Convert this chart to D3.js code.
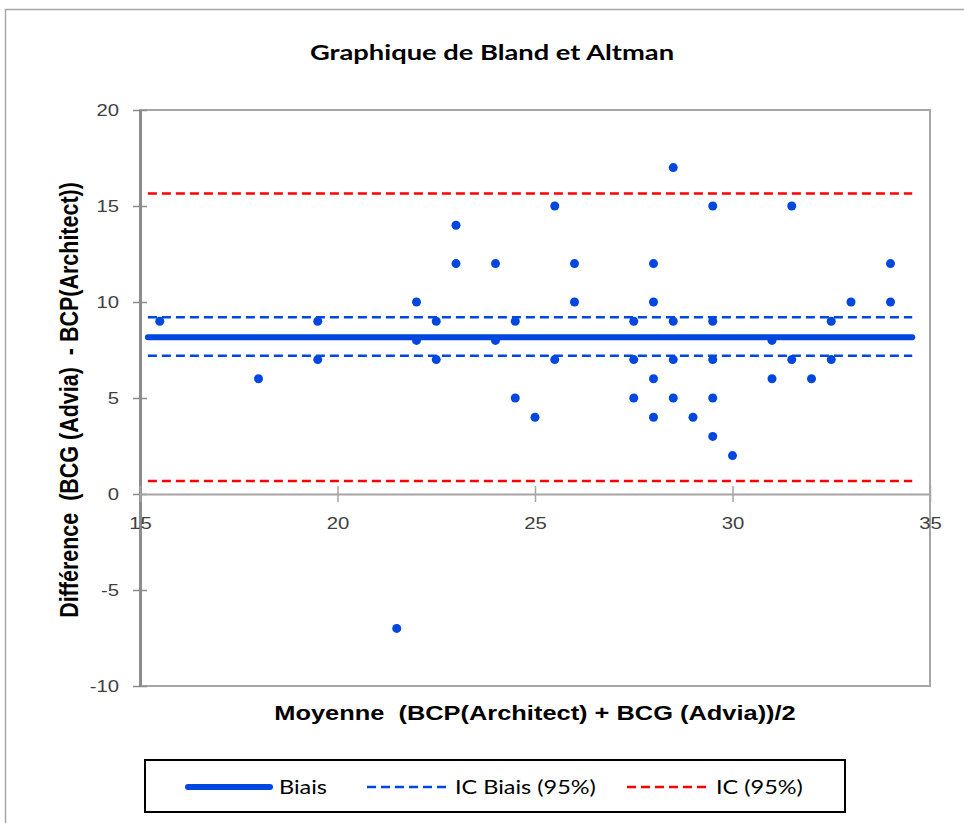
<!DOCTYPE html>
<html>
<head>
<meta charset="utf-8">
<script src="https://cdn.jsdelivr.net/npm/d3@7"></script>
<style>
  html, body { margin: 0; padding: 0; background: #fff; }
  svg { display: block; }
  text { white-space: pre; }
</style>
</head>
<body>
<svg id="chart" width="964" height="823"></svg>
<script>
// ---- Data ----
const meanValues = [15.5, 18, 19.5, 19.5, 21.5, 22, 22, 22.5, 22.5, 23, 23, 24, 24, 24.5, 24.5, 25,
  25.5, 25.5, 26, 26, 27.5, 27.5, 27.5, 28, 28, 28, 28, 28.5, 28.5, 28.5, 28.5, 29,
  29.5, 29.5, 29.5, 29.5, 29.5, 30, 31, 31, 31.5, 31.5, 32, 32.5, 32.5, 33, 34, 34];
const diffValues = [9, 6, 9, 7, -7, 10, 8, 9, 7, 14, 12, 12, 8, 9, 5, 4,
  15, 7, 12, 10, 9, 7, 5, 12, 10, 6, 4, 17, 9, 7, 5, 4,
  15, 9, 7, 5, 3, 2, 8, 6, 15, 7, 6, 9, 7, 10, 12, 10];
const lineXRange = [15.2, 34.55];
const biasValue = 8.17;
const icBiaisValues = [9.2, 7.2];
const icValues = [15.65, 0.68];
const xTicks = [15, 20, 25, 30, 35];
const yTicks = [-10, -5, 0, 5, 10, 15, 20];
const legendLabels = ["Biais", "IC Biais (95%)", "IC (95%)"];
const titleText = "Graphique de Bland et Altman";
const xLabel = "Moyenne  (BCP(Architect) + BCG (Advia))/2";
const yLabel = "Différence  (BCG (Advia)  - BCP(Architect))";

const blue = "#0047e0";
const red = "#ff0000";
const SX = 1.27; // horizontal stretch of the original picture

const svg = d3.select("#chart");

// outer chart border
svg.append("rect").attr("x", 5.5).attr("y", 9.5).attr("width", 1000).attr("height", 1000)
  .attr("fill", "none").attr("stroke", "#a6a6a6").attr("stroke-width", 1.5);

const plot = { left: 140, right: 930, top: 110, bottom: 686 };
const x = d3.scaleLinear().domain([15, 35]).range([plot.left, plot.right]);
const y = d3.scaleLinear().domain([-10, 20]).range([plot.bottom, plot.top]);

// plot area border
svg.append("rect").attr("x", plot.left).attr("y", plot.top)
  .attr("width", plot.right - plot.left).attr("height", plot.bottom - plot.top)
  .attr("fill", "none").attr("stroke", "#a6a6a6").attr("stroke-width", 2);

const fmt = d => String(d);

// y axis
const yAxis = d3.axisLeft(y).tickValues(yTicks).tickFormat(fmt).tickSizeInner(7).tickSizeOuter(0);
const yG = svg.append("g").attr("transform", `translate(${plot.left},0)`).call(yAxis);
yG.select(".domain").attr("stroke", "#8c8c8c").attr("stroke-width", 3);
yG.selectAll(".tick line").attr("stroke", "#8c8c8c").attr("stroke-width", 1.5).attr("x2", 7).attr("x1", -7);
yG.selectAll(".tick text").attr("font-family", "Liberation Sans, Arial, sans-serif")
  .attr("font-size", 16).attr("fill", "#404040")
  .attr("x", -21 / SX).attr("transform", `scale(${SX},1)`);

// x axis at y=0
const xAxis = d3.axisBottom(x).tickValues(xTicks).tickFormat(fmt).tickSizeInner(8).tickSizeOuter(0).tickPadding(16);
const xG = svg.append("g").attr("transform", `translate(0,${y(0)})`).call(xAxis);
xG.select(".domain").attr("stroke", "#a6a6a6").attr("stroke-width", 2);
xG.selectAll(".tick line").attr("stroke", "#a6a6a6").attr("stroke-width", 1.5).attr("y1", -8).attr("y2", 8);
xG.selectAll(".tick text").attr("font-family", "Liberation Sans, Arial, sans-serif")
  .attr("font-size", 16).attr("fill", "#404040").attr("transform", `scale(${SX},1)`);

// reference lines
function hline(val, color, width, dash, cap) {
  svg.append("line")
    .attr("x1", x(lineXRange[0])).attr("x2", x(lineXRange[1]))
    .attr("y1", y(val)).attr("y2", y(val))
    .attr("stroke", color).attr("stroke-width", width)
    .attr("stroke-dasharray", dash).attr("stroke-linecap", cap);
}
icValues.forEach(v => hline(v, red, 2.5, "9,5", "butt"));
icBiaisValues.forEach(v => hline(v, blue, 2.5, "9,5", "butt"));
hline(biasValue, blue, 6, null, "round");

// points
const pts = meanValues.map((m, i) => ({ m, d: diffValues[i] }));
svg.append("g").selectAll("circle").data(pts).join("circle")
  .attr("cx", p => x(p.m)).attr("cy", p => y(p.d)).attr("r", 4.5).attr("fill", blue);

// title
svg.append("text").attr("transform", `translate(492,60) scale(${SX},1)`).attr("text-anchor", "middle")
  .attr("font-family", "Lato, sans-serif").attr("font-weight", "bold").attr("font-size", 21.5)
  .attr("fill", "#000").text(titleText);

// axis labels
svg.append("text").attr("transform", `translate(535,720) scale(${SX},1)`).attr("text-anchor", "middle")
  .attr("font-family", "Liberation Sans, Arial, sans-serif").attr("font-weight", "bold").attr("font-size", 20)
  .attr("fill", "#000").text(xLabel);
svg.append("text").attr("transform", `translate(78,400) scale(1.18,1) rotate(-90)`).attr("text-anchor", "middle")
  .attr("font-family", "Liberation Sans, Arial, sans-serif").attr("font-weight", "bold").attr("font-size", 21.5)
  .attr("fill", "#000").text(yLabel);

// legend
const lg = svg.append("g");
lg.append("rect").attr("x", 145).attr("y", 760).attr("width", 700).attr("height", 52)
  .attr("fill", "#fff").attr("stroke", "#000").attr("stroke-width", 2);
const legendItems = [
  { x1: 188, x2: 270, color: blue, width: 6, dash: null, cap: "round", tx: 279 },
  { x1: 367, x2: 447, color: blue, width: 2.5, dash: "9,5", cap: "butt", tx: 455 },
  { x1: 627, x2: 708, color: red, width: 2.5, dash: "9,5", cap: "butt", tx: 716 }
];
legendItems.forEach((it, i) => {
  lg.append("line").attr("x1", it.x1).attr("x2", it.x2).attr("y1", 787).attr("y2", 787)
    .attr("stroke", it.color).attr("stroke-width", it.width)
    .attr("stroke-dasharray", it.dash).attr("stroke-linecap", it.cap);
  lg.append("text").attr("transform", `translate(${it.tx},794) scale(${SX},1)`)
    .attr("font-family", "Lato, sans-serif").attr("font-size", 18.5)
    .attr("fill", "#000").text(legendLabels[i]);
});
</script>
</body>
</html>
